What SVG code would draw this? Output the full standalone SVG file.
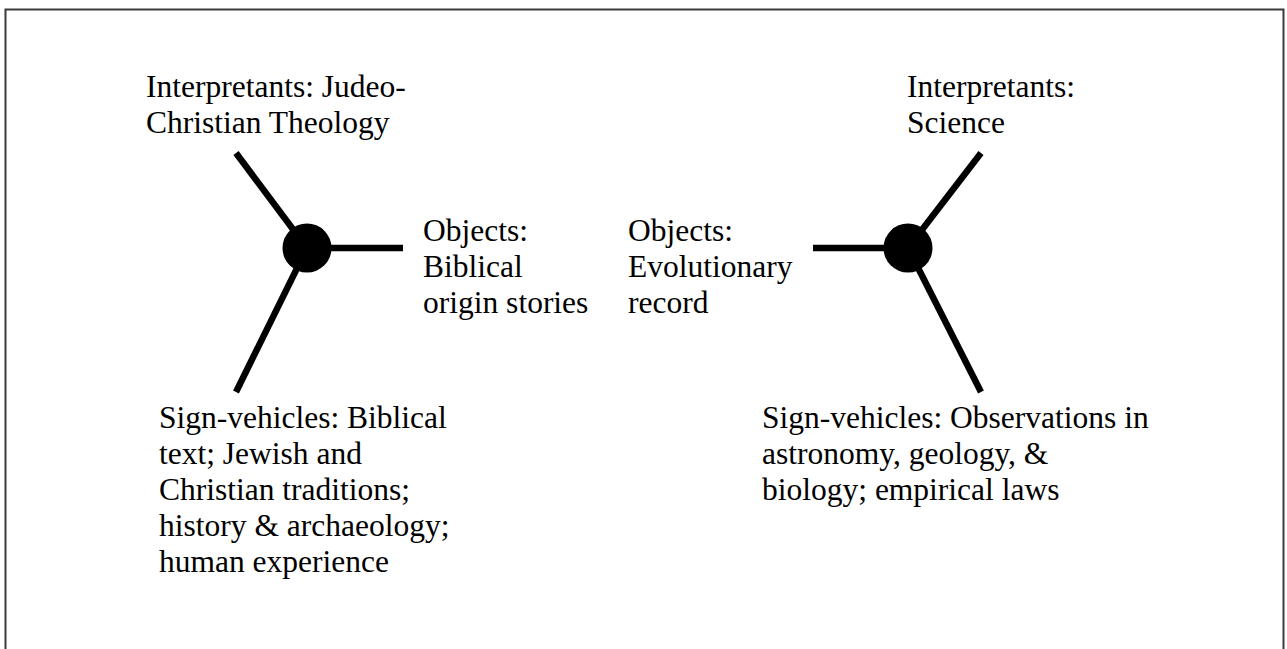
<svg xmlns="http://www.w3.org/2000/svg" width="1287" height="649" viewBox="0 0 1287 649">
<style>
text{font-family:"Liberation Serif","Times New Roman",serif;font-size:31.5px;fill:#000}
.arm{stroke:#000;stroke-width:6.5;fill:none}
.hub{fill:#000}
</style>
<rect x="0" y="0" width="1287" height="649" fill="#fff"/>
<rect x="5.5" y="9.5" width="1278" height="660" fill="none" stroke="#3a3a3a" stroke-width="2"/>
<g id="connectors">
<line class="arm" x1="307" y1="248" x2="236" y2="153"/>
<line class="arm" x1="307" y1="248" x2="403" y2="248"/>
<line class="arm" x1="307" y1="248" x2="236" y2="392"/>
<line class="arm" x1="908" y1="248" x2="813" y2="248"/>
<line class="arm" x1="908" y1="248" x2="981" y2="153"/>
<line class="arm" x1="908" y1="248" x2="981" y2="392"/>
</g>
<g id="hub-left"><circle class="hub" cx="307" cy="248" r="24.5"/></g>
<g id="hub-right"><circle class="hub" cx="908" cy="248" r="24.5"/></g>
<g id="interp-left"><text x="146" y="97">Interpretants: Judeo-</text><text x="146" y="133">Christian Theology</text></g>
<g id="objects-left"><text x="423" y="241">Objects:</text><text x="423" y="277">Biblical</text><text x="423" y="313">origin stories</text></g>
<g id="signs-left"><text x="159" y="428">Sign-vehicles: Biblical</text><text x="159" y="464">text; Jewish and</text><text x="159" y="500">Christian traditions;</text><text x="159" y="536">history &amp; archaeology;</text><text x="159" y="572">human experience</text></g>
<g id="objects-right"><text x="628" y="241">Objects:</text><text x="628" y="277">Evolutionary</text><text x="628" y="313">record</text></g>
<g id="interp-right"><text x="907" y="97">Interpretants:</text><text x="907" y="133">Science</text></g>
<g id="signs-right"><text x="762" y="428">Sign-vehicles: Observations in</text><text x="762" y="464">astronomy, geology, &amp;</text><text x="762" y="500">biology; empirical laws</text></g>
</svg>
